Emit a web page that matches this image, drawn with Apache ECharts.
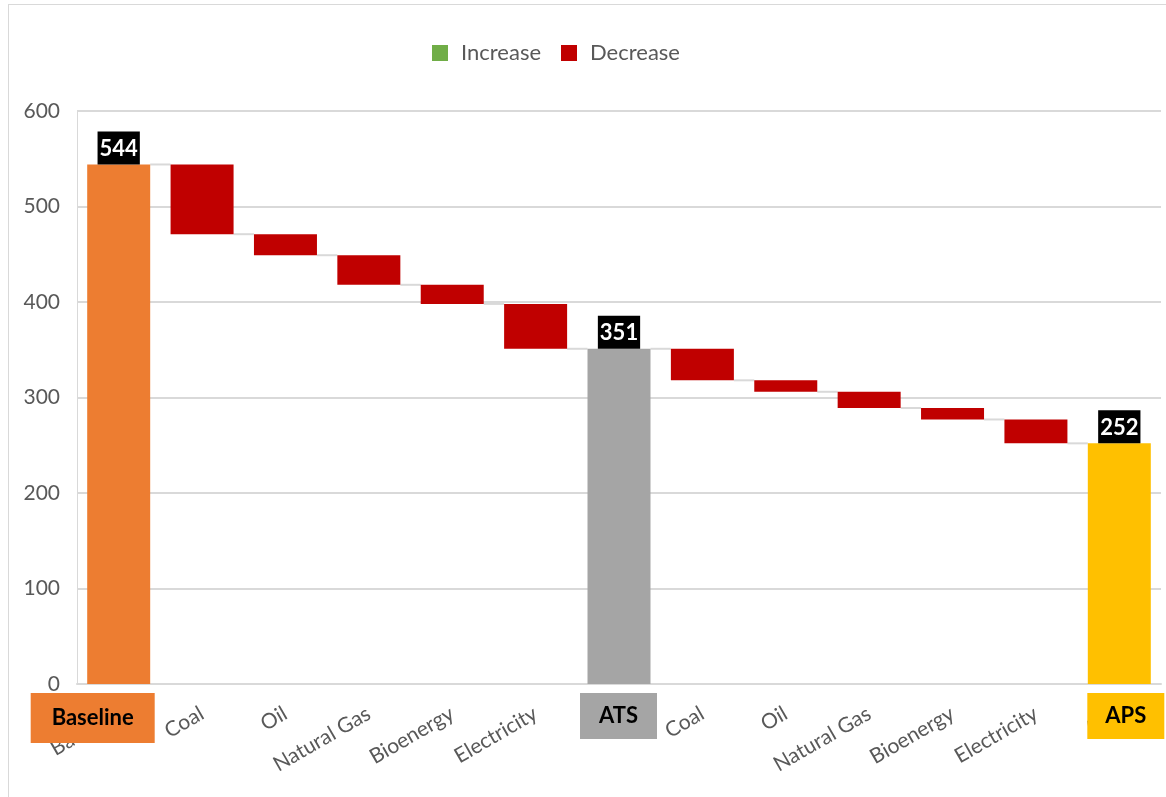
<!DOCTYPE html>
<html>
<head>
<meta charset="utf-8">
<script src="https://cdn.jsdelivr.net/npm/echarts@6/dist/echarts.min.js"></script>
<style>
  html, body { margin: 0; padding: 0; background: #fff; }
  #chart { position: absolute; left: 0; top: 0; width: 1166px; height: 797px; }
  #frame { position: absolute; left: 8px; top: 4px; width: 1200px; height: 900px;
           border: 1px solid #d9d9d9; pointer-events: none; }
</style>
</head>
<body>
<div id="chart"></div>
<div id="frame"></div>
<script>
// ---- data ----
const categories = ['Baseline', 'Coal', 'Oil', 'Natural Gas', 'Bioenergy', 'Electricity',
                    'ATS', 'Coal', 'Oil', 'Natural Gas', 'Bioenergy', 'Electricity', 'APS'];
const totals  = [544, null, null, null, null, null, 351, null, null, null, null, null, 252];
const changes = [null, -73, -22, -31, -20, -47, null, -33, -12, -17, -12, -25, null];
const totalNames = { 0: 'Baseline', 6: 'ATS', 12: 'APS' };
const yTicks = [0, 100, 200, 300, 400, 500, 600];

// ---- styles ----
const totalColors = { 0: '#ED7D31', 6: '#A5A5A5', 12: '#FFC000' };
const boxStyle = {
  0:  { dx: -88, w: 124, h: 50 },
  6:  { dx: -39, w: 77,  h: 46 },
  12: { dx: -32, w: 77,  h: 46 }
};
const BAR_W = 63;
const FONT = 'Lato, "Open Sans", sans-serif';

// ---- derived waterfall levels ----
const helper = [], incr = [], decr = [], totalBars = [], endLevel = [];
let level = 0;
categories.forEach((c, i) => {
  if (totals[i] != null) {
    level = totals[i];
    helper.push(0); incr.push(null); decr.push(null);
    totalBars.push({ value: totals[i], itemStyle: { color: totalColors[i] } });
  } else {
    const d = changes[i];
    const next = level + d;
    helper.push(Math.min(level, next));
    incr.push(d > 0 ? d : null);
    decr.push(d < 0 ? -d : null);
    totalBars.push(null);
    level = next;
  }
  endLevel.push(level);
});
const connectorData = endLevel.slice(0, -1).map((v, i) => [i, v]);
const boxData = Object.keys(totalNames).map(k => [Number(k), 0]);

const chart = echarts.init(document.getElementById('chart'), null, { renderer: 'canvas' });
chart.setOption({
  animation: false,
  backgroundColor: 'transparent',
  textStyle: { fontFamily: FONT },
  legend: {
    data: ['Increase', 'Decrease'],
    top: 37, left: 427,
    icon: 'rect', itemWidth: 16, itemHeight: 16, itemGap: 20,
    textStyle: { color: '#595959', fontSize: 22, fontFamily: FONT, padding: [0, 0, 0, 8] }
  },
  grid: { left: 77, right: 5, top: 111, bottom: 113, containLabel: false },
  xAxis: {
    type: 'category',
    data: categories,
    axisLine: { lineStyle: { color: '#d9d9d9', width: 2 } },
    axisTick: { show: false },
    axisLabel: { rotate: 30, color: '#595959', fontSize: 21, fontFamily: FONT, margin: 28, interval: 0 }
  },
  yAxis: {
    type: 'value', min: yTicks[0], max: yTicks[yTicks.length - 1], interval: 100,
    axisLine: { show: true, lineStyle: { color: '#d9d9d9', width: 1 } },
    axisTick: { show: false },
    splitLine: { lineStyle: { color: '#d9d9d9', width: 2 } },
    axisLabel: { color: '#595959', fontSize: 21, fontFamily: FONT, margin: 17 }
  },
  series: [
    { name: 'helper', type: 'bar', stack: 'wf', barWidth: BAR_W, data: helper,
      itemStyle: { color: 'transparent' }, silent: true },
    { name: 'Increase', type: 'bar', stack: 'wf', barWidth: BAR_W, data: incr,
      itemStyle: { color: '#70AD47' } },
    { name: 'Decrease', type: 'bar', stack: 'wf', barWidth: BAR_W, data: decr,
      itemStyle: { color: '#C00000' } },
    { name: 'Total', type: 'bar', stack: 'wf', barWidth: BAR_W, data: totalBars,
      label: { show: true, position: 'top', distance: 0, color: '#fff', fontWeight: 'bold',
               fontSize: 22, fontFamily: FONT, backgroundColor: '#000', padding: [3, 2, 1, 2],
               lineHeight: 29 } },
    { name: 'connectors', type: 'custom', data: connectorData, z: 1, silent: true,
      renderItem: function (params, api) {
        const i = api.value(0), v = api.value(1);
        const p1 = api.coord([i, v]);
        const p2 = api.coord([i + 1, v]);
        return { type: 'line',
          shape: { x1: p1[0] + BAR_W / 2, y1: p1[1], x2: p2[0] - BAR_W / 2, y2: p2[1] },
          style: { stroke: '#d9d9d9', lineWidth: 2 } };
      } },
    { name: 'boxes', type: 'custom', data: boxData, z: 10, clip: false, silent: true,
      renderItem: function (params, api) {
        const i = api.value(0);
        const p = api.coord([i, 0]);
        const s = boxStyle[i];
        return { type: 'group', children: [
          { type: 'rect', shape: { x: p[0] + s.dx, y: p[1] + 9, width: s.w, height: s.h },
            style: { fill: totalColors[i] } },
          { type: 'text', x: p[0] + s.dx + s.w / 2, y: p[1] + 9 + s.h / 2,
            style: { text: totalNames[i], fill: '#000', font: 'bold 22px ' + FONT,
                     align: 'center', verticalAlign: 'middle' } }
        ] };
      } }
  ]
});
</script>
</body>
</html>
